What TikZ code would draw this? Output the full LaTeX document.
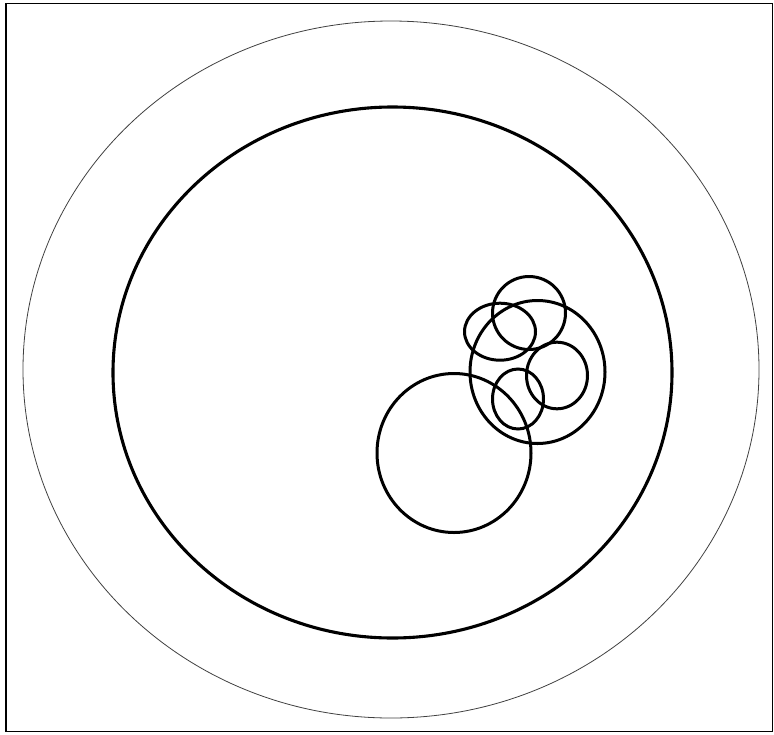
\documentclass[tikz,border=0pt]{standalone}
\usetikzlibrary{calc}
\tikzset{
  frame/.style={draw=black, line width=1.2pt},
  rim/.style={draw=black!75, line width=0.8pt},
  ring/.style={draw=black, line width=3.1pt},
  blob/.style={draw=black, line width=3pt},
}
\begin{document}
\begin{tikzpicture}[x=1pt, y=-1pt]
  \useasboundingbox (0,0) rectangle (774,734);
  \draw[frame] (6,3.5) rectangle (772.5,731.5);
  % outer and inner rims
  \draw[rim] (391,369.5) ellipse [x radius=368, y radius=348.5];
  \draw[ring] (392.5,372.5) ellipse [x radius=279.5, y radius=265.5];
  % cluster of small circles
  \draw[blob] (454,453) ellipse [x radius=77, y radius=79.5];
  \draw[blob] (537.5,372) ellipse [x radius=67.5, y radius=71.5];
  \draw[blob] (529,313) ellipse [x radius=36.5, y radius=36.5];
  \draw[blob] (500,331.7) ellipse [x radius=35.5, y radius=28.5];
  \draw[blob] (557,375.5) ellipse [x radius=30.5, y radius=33.3];
  \draw[blob] (518,399) ellipse [x radius=25.5, y radius=30];
\end{tikzpicture}
\end{document}
